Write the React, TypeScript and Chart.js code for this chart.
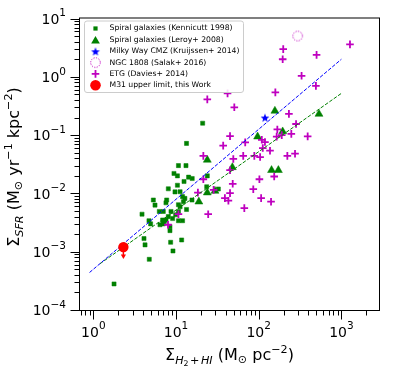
import React, { useEffect, useRef } from 'react';
import { Chart, registerables } from 'chart.js';

Chart.register(...registerables);

// ---------------- data ----------------
const kennicuttX = [1.78, 3.88, 4.10, 4.22, 4.75, 4.71, 4.93, 5.32, 5.57, 6.28, 7.02, 6.40, 6.89, 7.22, 7.56, 7.71, 8.07, 8.07, 8.45, 8.45, 8.61, 9.19, 9.10, 9.45, 9.72, 10.4, 10.4, 10.7, 10.7, 10.7, 11.2, 11.2, 11.7, 12.0, 12.0, 12.5, 12.8, 13.2, 13.4, 13.4, 14.2, 15.7, 15.6, 21.0, 23.5, 23.9, 32.5, 8.7, 9.9, 12.3, 10.7, 7.0, 7.57];
const kennicuttY = [2.8e-4, 4.4e-3, 1.68e-3, 1.31e-3, 7.4e-4, 3.4e-3, 3.0e-3, 7.7e-3, 6.3e-3, 4.9e-3, 4.9e-3, 2.9e-3, 3.5e-3, 3.3e-3, 6.9e-3, 7.7e-3, 1.2e-2, 4.0e-3, 2.3e-3, 2.7e-3, 1.45e-3, 1.03e-3, 3.7e-3, 2.2e-2, 1.06e-2, 2.0e-2, 1.38e-2, 3.0e-2, 4.9e-3, 3.4e-3, 1.07e-2, 5.9e-3, 1.59e-3, 3.4e-3, 8.8e-3, 1.6e-2, 8.2e-3, 3.0e-2, 7.2e-2, 5.3e-3, 1.9e-2, 1.8e-2, 7.7e-3, 0.16, 1.3e-2, 2.0e-2, 1.19e-2, 4.9e-3, 4.3e-3, 7.2e-3, 6.4e-3, 3.0e-3, 3.5e-3];

const leroyX = [18.9, 23.9, 23.9, 29.6, 48, 97, 157, 143, 173, 195, 536];
const leroyY = [7.2e-3, 3.75e-2, 1.03e-2, 1.1e-2, 2.8e-2, 9.4e-2, 0.26, 2.5e-2, 2.5e-2, 0.115, 0.23];

const cmzX = [119];
const cmzY = [0.2];

const ngcX = [296];
const ngcY = [5.0];

const etgX = [1270, 198, 195, 501, 330, 492, 159, 42, 23.9, 50.7, 232, 283, 168, 165, 190, 248, 391, 45, 37.2, 68.7, 109, 119, 112, 137, 65, 88.5, 104, 49.3, 222, 275, 21.4, 21.4, 18.4, 28.5, 45, 48.5, 102, 154, 86, 45, 39, 43, 107, 141, 67, 24.5, 10.7, 8.0];
const etgY = [3.6, 2.98, 2.0, 2.38, 1.04, 0.70, 0.54, 0.52, 0.41, 0.30, 0.231, 0.155, 0.125, 0.094, 0.10, 0.105, 0.095, 0.096, 0.066, 0.075, 0.083, 0.076, 0.06, 0.054, 0.044, 0.044, 0.042, 0.039, 0.044, 0.048, 0.044, 0.0175, 0.0103, 0.0115, 0.025, 0.0146, 0.0175, 0.0195, 0.0118, 0.0101, 0.0083, 0.0075, 0.0083, 0.0072, 0.0056, 0.0044, 0.0044, 0.0029];

const m31X = [2.31];
const m31Y = [1.2e-3];
const m31LimitY = [8.45e-4];

const blueFitX = [0.9, 1000];
const blueFitY = [4.4e-4, 2.0];
const greenFitX = [1.2, 1000];
const greenFitY = [6.2e-4, 0.52];

const xMajorTicks = [1, 10, 100, 1000];
const xTickExps = ['0', '1', '2', '3'];
const yMajorTicks = [1e-4, 1e-3, 1e-2, 1e-1, 1, 10];
const yTickExps = ['\u22124', '\u22123', '\u22122', '\u22121', '0', '1'];

const legendLabels = [
  'Spiral galaxies (Kennicutt 1998)',
  'Spiral galaxies (Leroy+ 2008)',
  'Milky Way CMZ (Kruijssen+ 2014)',
  'NGC 1808 (Salak+ 2016)',
  'ETG (Davies+ 2014)',
  'M31 upper limit, this Work',
];

// ---------------- styling ----------------
const GREEN = '#008000';
const BLUE = '#0000ff';
const MAGENTA = '#bf00bf';
const RED = '#ff0000';
const FONT = '"DejaVu Sans", sans-serif';

const pts = (xs: number[], ys: number[]) => xs.map((x, i) => ({ x, y: ys[i] }));

function makeStar(r: number, color: string) {
  const c = document.createElement('canvas');
  const size = Math.ceil(r * 2 + 2);
  c.width = size;
  c.height = size;
  const g = c.getContext('2d')!;
  g.beginPath();
  for (let i = 0; i < 10; i++) {
    const rad = i % 2 === 0 ? r : r * 0.42;
    const a = -Math.PI / 2 + (i * Math.PI) / 5;
    g.lineTo(size / 2 + rad * Math.cos(a), size / 2 + 0.6 + rad * Math.sin(a));
  }
  g.closePath();
  g.fillStyle = color;
  g.fill();
  return c;
}

function makeDottedCircle(r: number, color: string) {
  const c = document.createElement('canvas');
  const size = Math.ceil(r * 2 + 3);
  c.width = size;
  c.height = size;
  const g = c.getContext('2d')!;
  g.setLineDash([1.2, 1.3]);
  g.strokeStyle = color;
  g.lineWidth = 1;
  g.beginPath();
  g.arc(size / 2, size / 2, r, 0, Math.PI * 2);
  g.stroke();
  return c;
}

type Seg = { t: string; s: number; it?: boolean; dy?: number; dx?: number };

function setFont(ctx: CanvasRenderingContext2D, g: Seg) {
  ctx.font = `${g.it ? 'italic ' : ''}${g.s}px ${FONT}`;
}
function segsWidth(ctx: CanvasRenderingContext2D, segs: Seg[]) {
  let w = 0;
  for (const g of segs) {
    setFont(ctx, g);
    w += ctx.measureText(g.t).width + (g.dx || 0);
  }
  return w;
}
function drawSegs(ctx: CanvasRenderingContext2D, segs: Seg[], x: number, y: number) {
  let cx = x;
  ctx.textAlign = 'left';
  ctx.textBaseline = 'alphabetic';
  for (const g of segs) {
    setFont(ctx, g);
    ctx.fillText(g.t, cx, y + (g.dy || 0));
    cx += ctx.measureText(g.t).width + (g.dx || 0);
  }
}

const TF = 16; // title font
const SF = 11.2; // sub/sup font
const xTitle: Seg[] = [
  { t: '\u03a3', s: TF },
  { t: 'H', s: SF, it: true, dy: 3.5 },
  { t: '2', s: 7.8, dy: 6, dx: 1.5 },
  { t: '+', s: SF, dy: 3.5, dx: 1.5 },
  { t: 'HI', s: SF, it: true, dy: 3.5 },
  { t: ' (M', s: TF },
  { t: '\u2299', s: SF, dy: 3 },
  { t: ' pc', s: TF },
  { t: '\u22122', s: SF, dy: -7 },
  { t: ')', s: TF },
];
const yTitle: Seg[] = [
  { t: '\u03a3', s: TF },
  { t: 'SFR', s: SF, it: true, dy: 3.5 },
  { t: ' (M', s: TF },
  { t: '\u2299', s: SF, dy: 3 },
  { t: ' yr', s: TF },
  { t: '\u22121', s: SF, dy: -7 },
  { t: ' kpc', s: TF },
  { t: '\u22122', s: SF, dy: -7 },
  { t: ')', s: TF },
];

export default function App() {
  const ref = useRef<HTMLCanvasElement | null>(null);

  useEffect(() => {
    if (!ref.current) return;
    const star = makeStar(4.6, BLUE);
    const dotted = makeDottedCircle(4.8, MAGENTA);

    const decor = {
      id: 'mplDecor',
      afterDraw(chart: any) {
        const ctx: CanvasRenderingContext2D = chart.ctx;
        const ca = chart.chartArea;
        const xs = chart.scales.x;
        const ys = chart.scales.y;
        ctx.save();
        ctx.fillStyle = '#000';
        ctx.strokeStyle = '#000';
        // frame
        ctx.lineWidth = 1;
        ctx.strokeRect(ca.left - 0.5, ca.top - 0.5, ca.right - ca.left + 1, ca.bottom - ca.top + 1);

        const MAJ = 8.5;
        const MIN = 4.5;
        // y ticks
        ctx.beginPath();
        for (let e = -4; e <= 1; e++) {
          for (let m = 1; m <= 9; m++) {
            const v = m * Math.pow(10, e);
            if (v < ys.min * 0.999 || v > ys.max * 1.001) continue;
            const py = Math.round(ys.getPixelForValue(v)) + 0.5;
            const len = m === 1 ? MAJ : MIN;
            ctx.moveTo(ca.left - 1, py);
            ctx.lineTo(ca.left - 1 - len, py);
          }
        }
        // x ticks
        for (let e = -1; e <= 3; e++) {
          for (let m = 1; m <= 9; m++) {
            const v = m * Math.pow(10, e);
            if (v < xs.min || v > xs.max) continue;
            const px = Math.round(xs.getPixelForValue(v)) + 0.5;
            const len = m === 1 ? MAJ : MIN;
            ctx.moveTo(px, ca.bottom + 1);
            ctx.lineTo(px, ca.bottom + 1 + len);
          }
        }
        ctx.lineWidth = 1;
        ctx.stroke();

        // tick labels
        xMajorTicks.forEach((v, i) => {
          const segs: Seg[] = [{ t: '10', s: 14 }, { t: xTickExps[i], s: 10.5, dy: -7.5 }];
          const w = segsWidth(ctx, segs);
          drawSegs(ctx, segs, xs.getPixelForValue(v) - w / 2, ca.bottom + 26.7);
        });
        yMajorTicks.forEach((v, i) => {
          const segs: Seg[] = [{ t: '10', s: 14 }, { t: yTickExps[i], s: 10.5, dy: -7.5 }];
          const w = segsWidth(ctx, segs);
          drawSegs(ctx, segs, 66 - w, ys.getPixelForValue(v) + 5.2);
        });

        // axis titles
        const xw = segsWidth(ctx, xTitle);
        drawSegs(ctx, xTitle, (ca.left + ca.right) / 2 - xw / 2, 360);
        const yw = segsWidth(ctx, yTitle);
        ctx.save();
        ctx.translate(19, 167);
        ctx.rotate(-Math.PI / 2);
        drawSegs(ctx, yTitle, -yw / 2, 0);
        ctx.restore();

        // legend
        const lx = 84.5, ly = 21, lw = 159, lh = 71.5;
        ctx.beginPath();
        const r = 2.5;
        ctx.moveTo(lx + r, ly);
        ctx.arcTo(lx + lw, ly, lx + lw, ly + lh, r);
        ctx.arcTo(lx + lw, ly + lh, lx, ly + lh, r);
        ctx.arcTo(lx, ly + lh, lx, ly, r);
        ctx.arcTo(lx, ly, lx + lw, ly, r);
        ctx.closePath();
        ctx.fillStyle = 'rgba(255,255,255,0.85)';
        ctx.fill();
        ctx.strokeStyle = '#cccccc';
        ctx.lineWidth = 1;
        ctx.stroke();

        const rows = [28.5, 40, 51.3, 62.6, 73.9, 85.2];
        const mx = 95.5;
        // markers
        ctx.fillStyle = GREEN;
        ctx.fillRect(mx - 2.1, rows[0] - 2.1, 4.2, 4.2);
        ctx.beginPath();
        const tr = 5;
        const tc = rows[1] + 1;
        ctx.moveTo(mx, tc - tr);
        ctx.lineTo(mx + tr * Math.sin((2 * Math.PI) / 3), tc - tr * Math.cos((2 * Math.PI) / 3));
        ctx.lineTo(mx - tr * Math.sin((2 * Math.PI) / 3), tc - tr * Math.cos((2 * Math.PI) / 3));
        ctx.closePath();
        ctx.fill();
        ctx.drawImage(star, mx - star.width / 2, rows[2] - star.height / 2);
        ctx.drawImage(dotted, mx - dotted.width / 2, rows[3] - dotted.height / 2);
        ctx.strokeStyle = MAGENTA;
        ctx.lineWidth = 1.8;
        ctx.beginPath();
        ctx.moveTo(mx - 3.8, rows[4]);
        ctx.lineTo(mx + 3.8, rows[4]);
        ctx.moveTo(mx, rows[4] - 3.8);
        ctx.lineTo(mx, rows[4] + 3.8);
        ctx.stroke();
        ctx.fillStyle = RED;
        ctx.beginPath();
        ctx.arc(mx, rows[5], 5.3, 0, Math.PI * 2);
        ctx.fill();

        ctx.fillStyle = '#000';
        ctx.font = `7.7px ${FONT}`;
        ctx.textAlign = 'left';
        ctx.textBaseline = 'middle';
        legendLabels.forEach((t, i) => ctx.fillText(t, 109.5, rows[i]));
        ctx.restore();
      },
    };

    const chart = new Chart(ref.current, {
      type: 'scatter',
      data: {
        datasets: [
          {
            label: 'M31 limit arrow',
            data: [
              { x: m31X[0], y: m31Y[0] },
              { x: m31X[0], y: m31LimitY[0] },
            ],
            showLine: true,
            borderColor: RED,
            borderWidth: 1.5,
            pointRadius: [0, 3],
            pointStyle: 'triangle',
            rotation: 180,
            backgroundColor: RED,
            pointBorderWidth: 0,
            order: 0,
          } as any,
          {
            label: legendLabels[5],
            data: pts(m31X, m31Y),
            pointStyle: 'circle',
            pointRadius: 5.2,
            backgroundColor: RED,
            borderWidth: 0,
            order: 0,
          },
          {
            label: 'blue fit',
            data: pts(blueFitX, blueFitY),
            showLine: true,
            borderColor: BLUE,
            borderWidth: 1,
            borderDash: [3.7, 1.6],
            pointRadius: 0,
            order: 1,
          },
          {
            label: 'green fit',
            data: pts(greenFitX, greenFitY),
            showLine: true,
            borderColor: GREEN,
            borderWidth: 1,
            borderDash: [3.7, 1.6],
            pointRadius: 0,
            order: 1,
          },
          {
            label: legendLabels[4],
            data: pts(etgX, etgY),
            pointStyle: 'cross',
            pointRadius: 3.8,
            borderColor: MAGENTA,
            borderWidth: 1.8,
            order: 2,
          },
          {
            label: legendLabels[3],
            data: pts(ngcX, ngcY),
            pointStyle: dotted as any,
            pointRadius: 5,
            order: 3,
          },
          {
            label: legendLabels[2],
            data: pts(cmzX, cmzY),
            pointStyle: star as any,
            pointRadius: 5,
            order: 4,
          },
          {
            label: legendLabels[1],
            data: pts(leroyX, leroyY),
            pointStyle: 'triangle',
            pointRadius: 4.6,
            backgroundColor: GREEN,
            borderColor: GREEN,
            borderWidth: 0.5,
            order: 5,
          },
          {
            label: legendLabels[0],
            data: pts(kennicuttX, kennicuttY),
            pointStyle: 'rect',
            pointRadius: 2.9,
            backgroundColor: GREEN,
            borderColor: GREEN,
            borderWidth: 0.5,
            order: 6,
          },
        ],
      },
      options: {
        animation: false,
        responsive: false,
        devicePixelRatio: 1,
        layout: { padding: { top: 18.5, right: 19, left: 0, bottom: 0 } },
        plugins: { legend: { display: false }, tooltip: { enabled: false } },
        scales: {
          x: {
            type: 'logarithmic',
            min: 0.69,
            max: 2850,
            grid: { display: false, drawTicks: false },
            border: { display: false },
            ticks: { display: false },
            afterBuildTicks: (s: any) => {
              s.ticks = xMajorTicks.map((v) => ({ value: v }));
            },
            afterFit: (s: any) => {
              s.height = 61;
            },
          },
          y: {
            type: 'logarithmic',
            min: 1e-4,
            max: 10,
            grid: { display: false, drawTicks: false },
            border: { display: false },
            ticks: { display: false },
            afterBuildTicks: (s: any) => {
              s.ticks = yMajorTicks.map((v) => ({ value: v }));
            },
            afterFit: (s: any) => {
              s.width = 80;
            },
          },
        },
      },
      plugins: [decor],
    });
    return () => chart.destroy();
  }, []);

  return (
    <div style={{ position: 'absolute', left: 0, top: 0, width: 398, height: 371, background: '#fff' }}>
      <canvas ref={ref} width={398} height={371} style={{ display: 'block' }} />
    </div>
  );
}
